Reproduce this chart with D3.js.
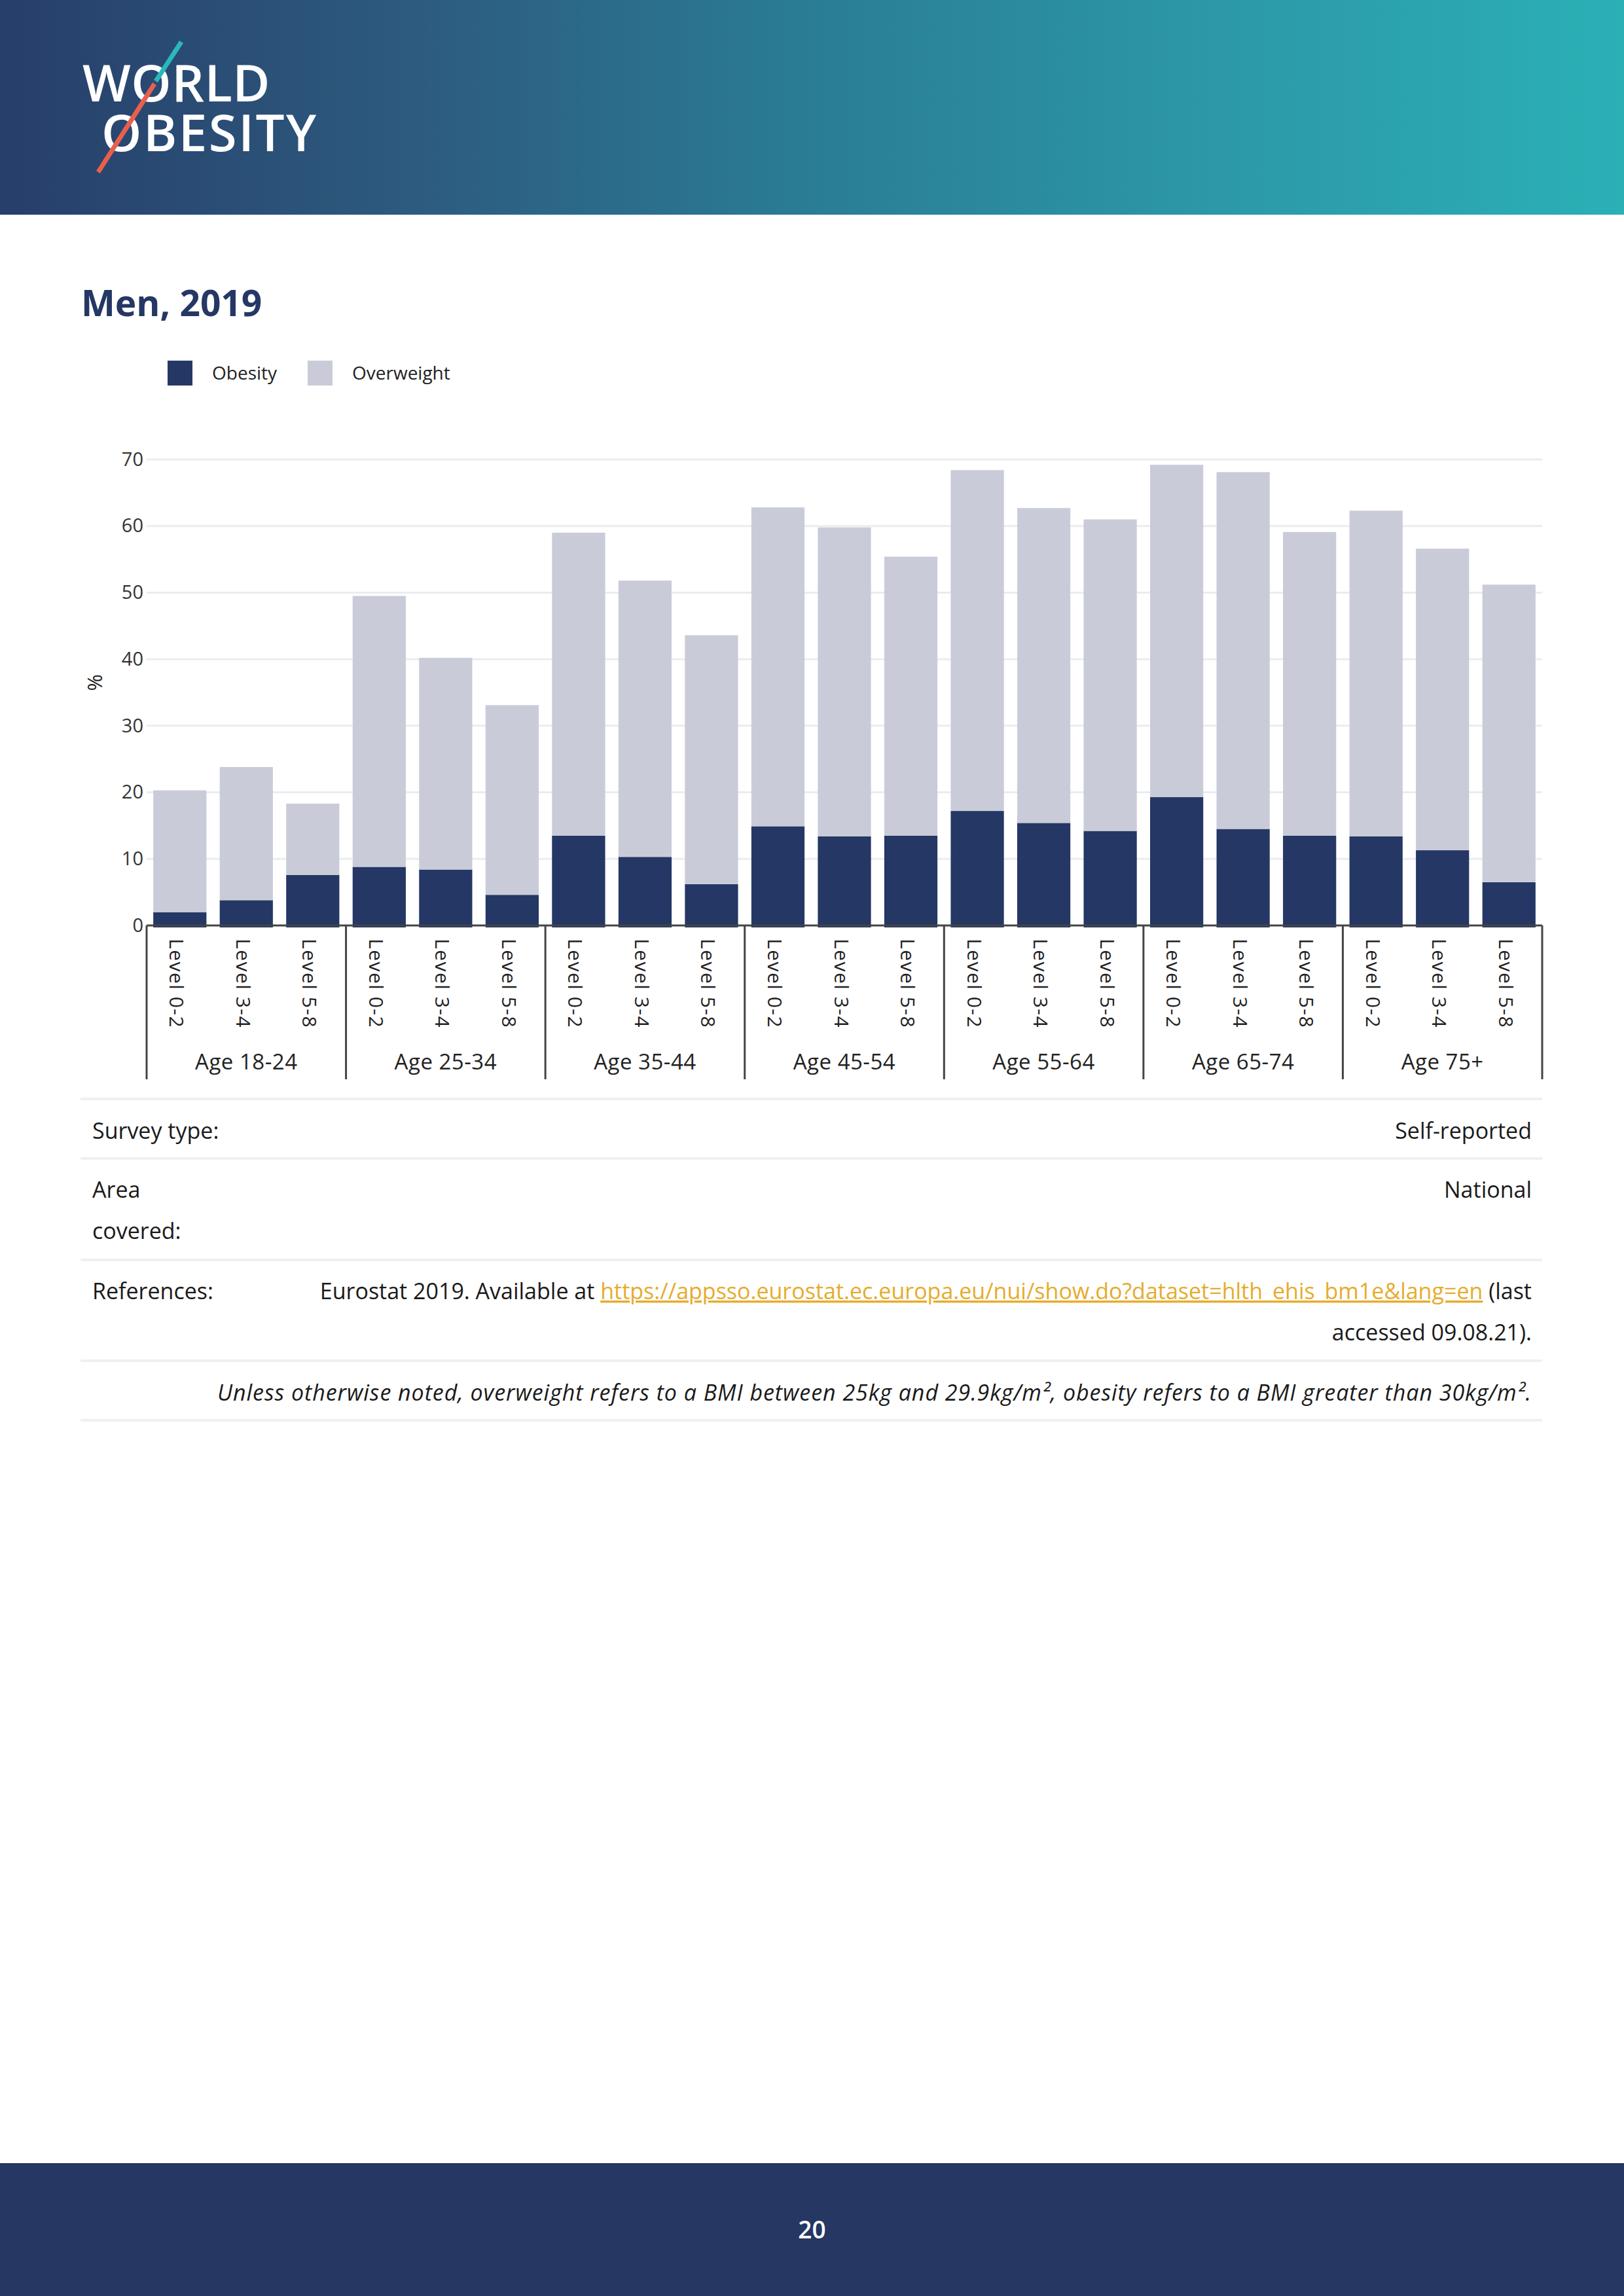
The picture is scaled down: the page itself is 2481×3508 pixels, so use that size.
<!DOCTYPE html>
<html>
<head>
<meta charset="utf-8">
<script src="https://cdn.jsdelivr.net/npm/d3@7"></script>
<style>
  html, body { margin: 0; padding: 0; background: #fff; }
  svg { display: block; }
</style>
</head>
<body>
<script>
// ---- Data ----
const ageGroups = ["Age 18-24", "Age 25-34", "Age 35-44", "Age 45-54", "Age 55-64", "Age 65-74", "Age 75+"];
const levels = ["Level 0-2", "Level 3-4", "Level 5-8"];
const obesity = [2.0, 3.8, 7.6, 8.8, 8.4, 4.6, 13.5, 10.3, 6.2, 14.9, 13.4, 13.5, 17.2, 15.4, 14.2, 19.3, 14.5, 13.5, 13.4, 11.3, 6.5];
const overweight = [18.3, 20.0, 10.7, 40.7, 31.8, 28.5, 45.5, 41.5, 37.4, 47.9, 46.4, 41.9, 51.2, 47.3, 46.8, 49.9, 53.6, 45.6, 48.9, 45.3, 44.7];
const yTicks = [0, 10, 20, 30, 40, 50, 60, 70];
const seriesNames = ["Obesity", "Overweight"];

const W = 2481, H = 3508;
const FONT = "'Open Sans', 'Noto Sans', sans-serif";
const NAVY = "#253764";
const GREY = "#c9ccd8";

const svg = d3.select("body").append("svg").attr("width", W).attr("height", H)
  .style("font-family", FONT);

// ---- Header ----
const defs = svg.append("defs");
const grad = defs.append("linearGradient").attr("id", "hdr").attr("x1", "0").attr("x2", "1").attr("y1", "0").attr("y2", "0");
grad.append("stop").attr("offset", "0").attr("stop-color", "#273f6a");
grad.append("stop").attr("offset", "0.25").attr("stop-color", "#2d5a7e");
grad.append("stop").attr("offset", "0.5").attr("stop-color", "#2a7d95");
grad.append("stop").attr("offset", "0.75").attr("stop-color", "#2c98a8");
grad.append("stop").attr("offset", "1").attr("stop-color", "#2bb0b6");
svg.append("rect").attr("x", 0).attr("y", 0).attr("width", W).attr("height", 328).attr("fill", "url(#hdr)");

// logo (single text block with two lines)
const logo = svg.append("text").attr("fill", "#fff").attr("font-size", 78).attr("font-weight", 600);
logo.append("tspan").attr("x", 126).attr("y", 155).attr("letter-spacing", 0.5).text("WORLD");
logo.append("tspan").attr("x", 155).attr("y", 231).attr("letter-spacing", 2.5).text("OBESITY");
svg.append("line").attr("x1", 277).attr("y1", 64).attr("x2", 238).attr("y2", 124)
  .attr("stroke", "#2ab8bd").attr("stroke-width", 7);
svg.append("line").attr("x1", 236).attr("y1", 128).attr("x2", 150).attr("y2", 263)
  .attr("stroke", "#e8604c").attr("stroke-width", 7);

// ---- Title ----
svg.append("text").attr("x", 124).attr("y", 483).attr("fill", NAVY)
  .attr("font-size", 55).attr("font-weight", 700).text("Men, 2019");

// ---- Legend ----
const legendColors = [NAVY, GREY];
const legendX = [256, 470];
seriesNames.forEach((n, i) => {
  svg.append("rect").attr("x", legendX[i]).attr("y", 551).attr("width", 38).attr("height", 38).attr("fill", legendColors[i]);
  svg.append("text").attr("x", legendX[i] + 68).attr("y", 580).attr("font-size", 28).attr("fill", "#222").text(n);
});

// ---- Chart ----
const x0 = 224, x1 = 2356, yTop = 702, yBase = 1414;
const cats = [];
ageGroups.forEach(a => levels.forEach(l => cats.push(a + "|" + l)));
const x = d3.scaleBand().domain(cats).range([x0, x1]).paddingInner(0.2).paddingOuter(0.1);
const y = d3.scaleLinear().domain([0, 70]).range([yBase, yTop]);

// gridlines
svg.append("g").selectAll("line").data(yTicks.filter(t => t > 0)).join("line")
  .attr("x1", x0).attr("x2", x1).attr("y1", d => y(d)).attr("y2", d => y(d))
  .attr("stroke", "#ebecef").attr("stroke-width", 3);

// y axis
const yAxis = svg.append("g").attr("transform", `translate(${x0},0)`)
  .call(d3.axisLeft(y).tickValues(yTicks).tickSize(0).tickPadding(5));
yAxis.select(".domain").remove();
yAxis.selectAll("text").attr("font-size", 29).attr("fill", "#333").style("font-family", FONT);

svg.append("text").attr("transform", `translate(156,1043) rotate(-90)`)
  .attr("text-anchor", "middle").attr("font-size", 31).attr("fill", "#222").text("%");

// stacked bars
const rows = cats.map((c, i) => ({ key: c, Obesity: obesity[i], Overweight: overweight[i] }));
const stack = d3.stack().keys(seriesNames)(rows);
const color = d3.scaleOrdinal().domain(seriesNames).range([NAVY, GREY]);
svg.append("g").selectAll("g").data(stack).join("g").attr("fill", d => color(d.key))
  .selectAll("rect").data(d => d).join("rect")
  .attr("x", d => x(d.data.key)).attr("width", x.bandwidth())
  .attr("y", d => y(d[1])).attr("height", d => y(d[0]) - y(d[1]) + (d[0] === 0 ? 3 : 0));

// x axis line
svg.append("line").attr("x1", x0).attr("x2", x1).attr("y1", yBase).attr("y2", yBase)
  .attr("stroke", "#444").attr("stroke-width", 3);

// group separators
const sepX = d3.range(ageGroups.length + 1).map(k => {
  if (k === 0) return x0;
  if (k === ageGroups.length) return x1;
  return x(cats[k * 3]) - x.step() * x.paddingInner() / 2;
});
svg.append("g").selectAll("line").data(sepX).join("line")
  .attr("x1", d => d).attr("x2", d => d).attr("y1", yBase).attr("y2", 1649)
  .attr("stroke", "#444").attr("stroke-width", 3);

// level labels
svg.append("g").selectAll("text").data(cats).join("text")
  .attr("transform", d => `translate(${x(d) + x.bandwidth() / 2 - 4},1434) rotate(90)`)
  .attr("dominant-baseline", "central").attr("font-size", 30).attr("letter-spacing", 1.5).attr("fill", "#222")
  .text(d => d.split("|")[1]);

// age labels
svg.append("g").selectAll("text").data(ageGroups).join("text")
  .attr("x", (d, i) => (sepX[i] + sepX[i + 1]) / 2).attr("y", 1634)
  .attr("text-anchor", "middle").attr("font-size", 33).attr("letter-spacing", 0.5).attr("fill", "#222").text(d => d);

// ---- Info table ----
const tableLines = [1679, 1770, 1925, 2079, 2170];
svg.append("g").selectAll("line").data(tableLines).join("line")
  .attr("x1", 123).attr("x2", 2356).attr("y1", d => d).attr("y2", d => d)
  .attr("stroke", "#eef1f3").attr("stroke-width", 4);

const TX = 141, TR = 2340, TFS = 34, TC = "#1a1a1a";
function t(xp, yp, s, anchor) {
  return svg.append("text").attr("x", xp).attr("y", yp).attr("font-size", TFS).attr("fill", TC)
    .attr("text-anchor", anchor || "start").text(s);
}
t(TX, 1740, "Survey type:");
t(TR, 1740, "Self-reported", "end");
t(TX, 1830, "Area");
t(TX, 1893, "covered:");
t(TR, 1830, "National", "end");
t(TX, 1985, "References:");

const ref = svg.append("text").attr("x", TR).attr("y", 1985).attr("font-size", TFS).attr("fill", TC).attr("text-anchor", "end");
ref.append("tspan").text("Eurostat 2019. Available at ");
ref.append("tspan").attr("fill", "#e5ac2e").attr("text-decoration", "underline")
  .text("https://appsso.eurostat.ec.europa.eu/nui/show.do?dataset=hlth_ehis_bm1e&lang=en");
ref.append("tspan").text(" (last");
t(TR, 2048, "accessed 09.08.21).", "end");

svg.append("text").attr("x", TR).attr("y", 2140).attr("font-size", TFS).attr("fill", TC)
  .attr("text-anchor", "end").attr("font-style", "italic").attr("letter-spacing", 0.95)
  .text("Unless otherwise noted, overweight refers to a BMI between 25kg and 29.9kg/m², obesity refers to a BMI greater than 30kg/m².");

// ---- Footer ----
svg.append("rect").attr("x", 0).attr("y", 3305).attr("width", W).attr("height", H - 3305).attr("fill", "#253762");
svg.append("text").attr("x", W / 2).attr("y", 3420).attr("text-anchor", "middle")
  .attr("font-size", 37).attr("font-weight", 600).attr("fill", "#fff").text("20");
</script>
</body>
</html>
